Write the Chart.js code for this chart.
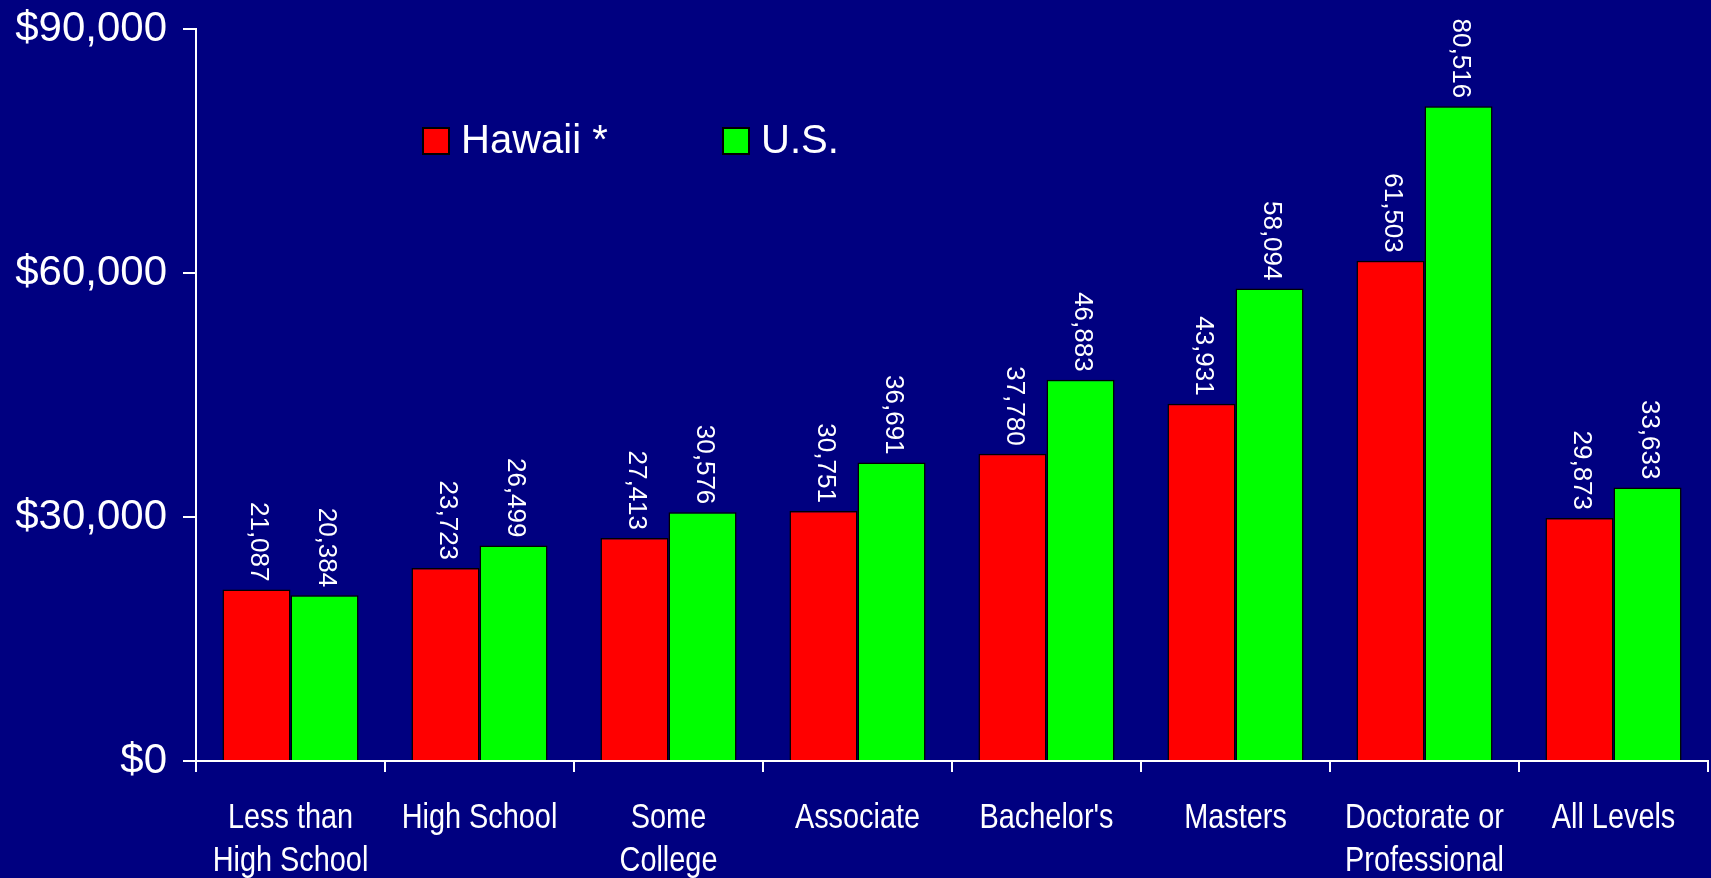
<!DOCTYPE html>
<html>
<head>
<meta charset="utf-8">
<script src="https://cdn.jsdelivr.net/npm/chart.js@4/dist/chart.umd.min.js"></script>
<style>
  html, body { margin: 0; padding: 0; background: #000080; }
  canvas { display: block; }
</style>
</head>
<body>
<canvas id="myChart" width="1711" height="878"></canvas>
<script>
// chart data
var categories = [
    ["Less than", "High School"],
    "High School",
    ["Some", "College"],
    "Associate",
    "Bachelor's",
    "Masters",
    ["Doctorate or", "Professional"],
    "All Levels"
];
var hawaiiValues = [21087, 23723, 27413, 30751, 37780, 43931, 61503, 29873];
var usValues = [20384, 26499, 30576, 36691, 46883, 58094, 80516, 33633];
var seriesNames = ["Hawaii *", "U.S."];
var yTicks = [0, 30000, 60000, 90000];

var barColors = ["#ff0000", "#00ff00"];
var normalFont = "'Liberation Sans', Arial, sans-serif";

// value labels above each bar, rotated
var valueLabels = {
    id: "valueLabels",
    afterDatasetsDraw(chart) {
        var ctx = chart.ctx;
        ctx.save();
        ctx.fillStyle = "#ffffff";
        ctx.font = "26px " + normalFont;
        ctx.textAlign = "right";
        ctx.textBaseline = "middle";
        chart.data.datasets.forEach((ds, di) => {
            var meta = chart.getDatasetMeta(di);
            meta.data.forEach((bar, i) => {
                ctx.save();
                ctx.translate(bar.x + 2, bar.y - 8);
                ctx.rotate(Math.PI / 2);
                ctx.fillText(ds.data[i].toLocaleString("en-US"), 0, 0);
                ctx.restore();
            });
        });
        ctx.restore();
    }
};

// category labels in a narrow face (squeezed Liberation Sans)
var narrowLabels = {
    id: "narrowLabels",
    afterDraw(chart) {
        var ctx = chart.ctx;
        var xScale = chart.scales.x;
        var firstLine = xScale.top + 57;
        ctx.save();
        ctx.fillStyle = "#ffffff";
        ctx.font = "35px " + normalFont;
        ctx.textAlign = "center";
        ctx.textBaseline = "middle";
        categories.forEach((lab, i) => {
            var lines = Array.isArray(lab) ? lab : [lab];
            var x = xScale.getPixelForValue(i);
            lines.forEach((line, k) => {
                ctx.save();
                ctx.translate(x, firstLine + k * 43);
                ctx.scale(0.825, 1);
                ctx.fillText(line, 0, 0);
                ctx.restore();
            });
        });
        ctx.restore();
    }
};

// legend drawn inside the plot
var innerLegend = {
    id: "innerLegend",
    afterDraw(chart) {
        var ctx = chart.ctx;
        var area = chart.chartArea;
        var spots = [227, 527];
        ctx.save();
        ctx.font = "40px " + normalFont;
        ctx.textBaseline = "middle";
        ctx.textAlign = "left";
        chart.data.datasets.forEach((ds, i) => {
            var x = area.left + spots[i];
            var y = area.top + 99;
            ctx.fillStyle = ds.backgroundColor;
            ctx.fillRect(x, y, 26, 26);
            ctx.strokeStyle = "#000000";
            ctx.lineWidth = 2;
            ctx.strokeRect(x, y, 26, 26);
            ctx.fillStyle = "#ffffff";
            ctx.fillText(ds.label, x + 38, y + 14);
        });
        ctx.restore();
    }
};

new Chart("myChart", {
    type: "bar",
    data: {
        labels: categories,
        datasets: [{
            label: seriesNames[0],
            data: hawaiiValues,
            backgroundColor: barColors[0],
            borderColor: "#000000",
            borderWidth: 1.5,
            categoryPercentage: 0.72,
            barPercentage: 1.0
        }, {
            label: seriesNames[1],
            data: usValues,
            backgroundColor: barColors[1],
            borderColor: "#000000",
            borderWidth: 1.5,
            categoryPercentage: 0.72,
            barPercentage: 1.0
        }]
    },
    options: {
        responsive: false,
        animation: false,
        layout: { padding: { left: 13, right: 3, top: 29, bottom: 0 } },
        plugins: {
            legend: { display: false },
            tooltip: { enabled: false }
        },
        scales: {
            x: {
                border: { color: "#ffffff", width: 2 },
                grid: {
                    drawOnChartArea: false,
                    drawTicks: true,
                    tickLength: 11,
                    color: "#ffffff",
                    lineWidth: 2
                },
                ticks: {
                    color: "rgba(0,0,0,0)",
                    font: { size: 35 },
                    maxRotation: 0,
                    autoSkip: false
                },
                afterFit(scale) { scale.height = 117; }
            },
            y: {
                min: 0,
                max: 90000,
                afterBuildTicks(scale) {
                    scale.ticks = yTicks.map(v => ({ value: v }));
                },
                border: { color: "#ffffff", width: 2 },
                grid: {
                    drawOnChartArea: false,
                    drawTicks: true,
                    tickLength: 13,
                    color: "#ffffff",
                    lineWidth: 2
                },
                ticks: {
                    color: "#ffffff",
                    font: { family: normalFont, size: 42, lineHeight: 0.5 },
                    padding: 16,
                    callback: v => "$" + v.toLocaleString("en-US")
                },
                afterFit(scale) { scale.width = 183; }
            }
        }
    },
    plugins: [valueLabels, narrowLabels, innerLegend]
});
</script>
</body>
</html>
